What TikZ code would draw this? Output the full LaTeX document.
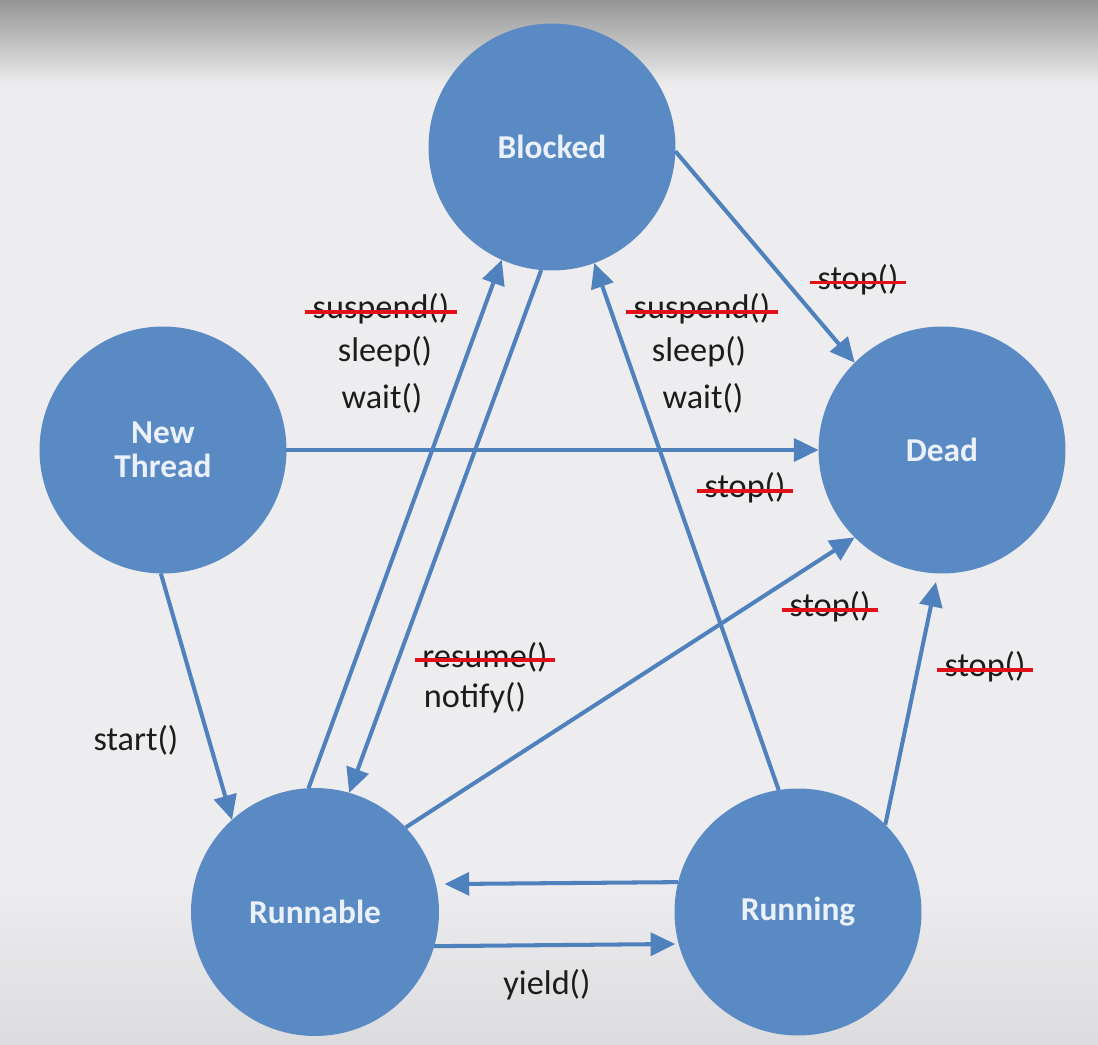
\documentclass[tikz,border=0pt]{standalone}
\usepackage{fontspec}
\setmainfont{Carlito}
\usetikzlibrary{arrows.meta}
\definecolor{bub}{HTML}{5A8AC3}
\definecolor{arr}{HTML}{4F81BD}
\definecolor{bg}{HTML}{EDEDEF}
\definecolor{bgb}{HTML}{DCDCDE}
\definecolor{bgt}{HTML}{959595}
\definecolor{txt}{HTML}{1C1C1C}
\definecolor{stk}{HTML}{E3101A}
\definecolor{ntx}{HTML}{EAF1FA}
\newcommand\strk[3]{%
  \node[lbl] (#1) at (#2) {#3};
  \draw[strike] ([xshift=-3pt,yshift=4pt]#1.base west) -- ([xshift=3pt,yshift=4pt]#1.base east);}
\begin{document}
\begin{tikzpicture}[x=0.02cm,y=-0.02cm,
  state/.style={circle,fill=bub,inner sep=0pt,outer sep=0pt,minimum size=4.94cm,
    text=ntx,font=\fontsize{19}{19.5}\selectfont\bfseries,align=center},
  lbl/.style={text=txt,font=\fontsize{19.5}{23}\selectfont,inner sep=1pt},
  trans/.style={draw=arr,line width=2.3pt,-{Triangle[length=14pt,width=13pt]}},
  strike/.style={draw=stk,line width=2pt}]
% background
\fill[bg] (0,0) rectangle (1098,1044);
\shade[top color=bgt,bottom color=bg] (0,0) rectangle (1098,85);
\shade[top color=bg,bottom color=bgb] (0,880) rectangle (1098,1044);
\useasboundingbox (0,0) rectangle (1098,1044);
% states
\node[state] (blocked) at (552,147) {Blocked};
\node[state] (new) at (163,450) {New\\Thread};
\node[state] (dead) at (942,450) {Dead};
\node[state,minimum size=4.96cm] (runnable) at (315,912) {Runnable};
\node[state] (running) at (798,912) {Running};
% transitions
\draw[trans] (new.east) -- (dead.west);
\draw[trans] (new.269) -- (runnable.132);
\draw[trans] (runnable.93.7) -- (blocked.246.5);
\draw[trans] (blocked.265.5) -- (runnable.74);
\draw[trans] (running.99.3) -- (blocked.290.9);
\draw[trans] (blocked.358.6) -- (dead.135);
\draw[trans] (runnable.43.4) -- (dead.225);
\draw[trans,shorten >=5pt] (running.45.6) -- (dead.268);
\draw[trans,shorten >=5pt] (running.166.6) -- (runnable.13.5);
\draw[trans,shorten >=2pt] (runnable.344.2) -- (running.195.6);
% labels
\strk{susA}{381,309}{suspend()}
\node[lbl] (sleepA) at (385,352) {sleep()};
\node[lbl] (waitA) at (382,398) {wait()};
\strk{susB}{702,309}{suspend()}
\node[lbl] (sleepB) at (699,352) {sleep()};
\node[lbl] (waitB) at (703,398) {wait()};
\strk{stopA}{858,280}{stop()}
\strk{stopB}{745,488}{stop()}
\strk{stopC}{830,607}{stop()}
\strk{stopD}{985,667}{stop()}
\strk{resume}{485,657}{resume()}
\node[lbl] (notify) at (475,698) {notify()};
\node[lbl] (start) at (136,740) {start()};
\node[lbl] (yield) at (547,985) {yield()};
\end{tikzpicture}
\end{document}
